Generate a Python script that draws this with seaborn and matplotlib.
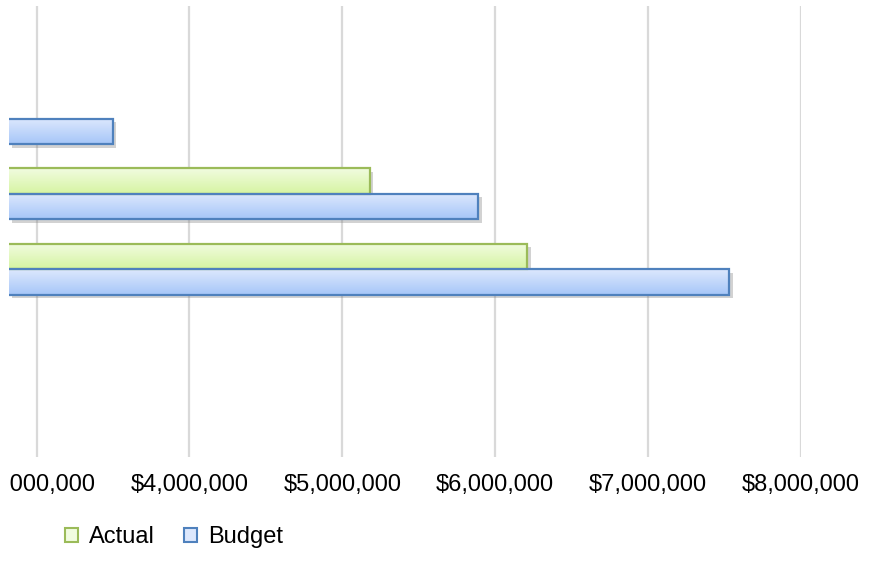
import numpy as np
import pandas as pd
import matplotlib
matplotlib.use("Agg")
import matplotlib.pyplot as plt
import matplotlib.patheffects as pe
from matplotlib.patches import Patch, Rectangle
from matplotlib.colors import LinearSegmentedColormap
from matplotlib.ticker import FuncFormatter
from matplotlib.transforms import Bbox, TransformedBbox
import seaborn as sns

# ---- data (category labels are cropped off in the reference) ----
categories = ["Cat A", "Cat B", "Cat C", "Cat D", "Cat E", "Cat F"]
actual = [1200000, 2300000, 5180000, 6210000, 1500000, 1800000]
budget = [1600000, 3500000, 5890000, 7530000, 2100000, 2400000]
series_names = ["Actual", "Budget"]

df = pd.DataFrame({
    "Category": categories * 2,
    "Value": actual + budget,
    "Series": [series_names[0]] * len(categories) + [series_names[1]] * len(categories),
})

sns.set_theme(style="white")
plt.rcParams["font.family"] = ["Liberation Sans", "DejaVu Sans"]

edge_cols = {"Actual": "#9BBB59", "Budget": "#4F81BD"}
grad_cols = {"Actual": ("#F1FCE0", "#D6F4A2"), "Budget": ("#DDE8FD", "#A6C6F8")}

fig = plt.figure(figsize=(8.96, 5.71), dpi=100)
ax = fig.add_axes([9 / 896, 1 - 457 / 571, (801 - 9) / 896, (457 - 6) / 571])

sns.barplot(data=df, y="Category", x="Value", hue="Series", orient="h",
            hue_order=series_names, palette=[grad_cols[s][1] for s in series_names],
            width=0.68, ax=ax, legend=False, saturation=1)

XMIN, XMAX = 2.82e6, 8.0e6
ax.set_xlim(XMIN, XMAX)
ax.set_xticks([3e6, 4e6, 5e6, 6e6, 7e6, 8e6])
ax.xaxis.set_major_formatter(FuncFormatter(lambda v, p: "${:,.0f}".format(v)))
ax.tick_params(axis="x", labelsize=17, pad=12, length=0, labelcolor="#000000")
ax.tick_params(axis="y", length=0, labelleft=False)
ax.set_xlabel("")
ax.set_ylabel("")
for s in ax.spines.values():
    s.set_visible(False)
ax.grid(axis="x", color="#D9D9D9", linewidth=1.6)
ax.set_axisbelow(True)

# gradients, edges and shadows on each bar
for container, name in zip(ax.containers, series_names):
    c_top, c_bot = grad_cols[name]
    cmap = LinearSegmentedColormap.from_list(name, [c_top, c_bot])
    for patch in container.patches:
        x0, y0 = patch.get_x(), patch.get_y()
        w, h = patch.get_width(), patch.get_height()
        x1 = x0 + w
        if x1 <= XMIN:
            patch.set_visible(False)
            continue
        xs = max(x0, XMIN)
        patch.set_visible(False)
        base = Rectangle((xs, y0), x1 - xs, h, facecolor=c_bot, edgecolor="none",
                         zorder=patch.get_zorder())
        base.set_path_effects([pe.SimplePatchShadow(offset=(2.5, -2.5), shadow_rgbFace="#808080", alpha=0.35),
                               pe.Normal()])
        ax.add_patch(base)
        grad = np.linspace(0, 1, 64).reshape(-1, 1)
        im = ax.imshow(grad, cmap=cmap, aspect="auto", extent=(xs, x1, y0 + h, y0),
                       origin="upper", zorder=patch.get_zorder() + 0.1, interpolation="bilinear")
        im.set_clip_path(base)
        ax.add_patch(Rectangle((x0, y0), w, h, fill=False, edgecolor=edge_cols[name],
                               linewidth=1.6, zorder=patch.get_zorder() + 0.2))

ax.set_xlim(XMIN, XMAX)
ax.set_ylim(len(categories) - 0.5, -0.5)

# the reference is cropped at the plot's left edge: clip tick labels there
clip = TransformedBbox(Bbox([[9 / 896, 0], [1, 1]]), fig.transFigure)
fig.canvas.draw()
for lbl in ax.get_xticklabels():
    lbl.set_clip_box(clip)
    lbl.set_clip_on(True)

handles = [Patch(facecolor=grad_cols[s][0], edgecolor=edge_cols[s], linewidth=1.5) for s in series_names]
leg = fig.legend(handles, series_names, loc="center", bbox_to_anchor=(174 / 896, 1 - 537 / 571),
                 ncol=2, frameon=False, fontsize=17, handlelength=0.55, handleheight=0.55,
                 handletextpad=0.5, columnspacing=1.2)
for t in leg.get_texts():
    t.set_color("#000000")

fig.savefig("out.png", dpi=100)
